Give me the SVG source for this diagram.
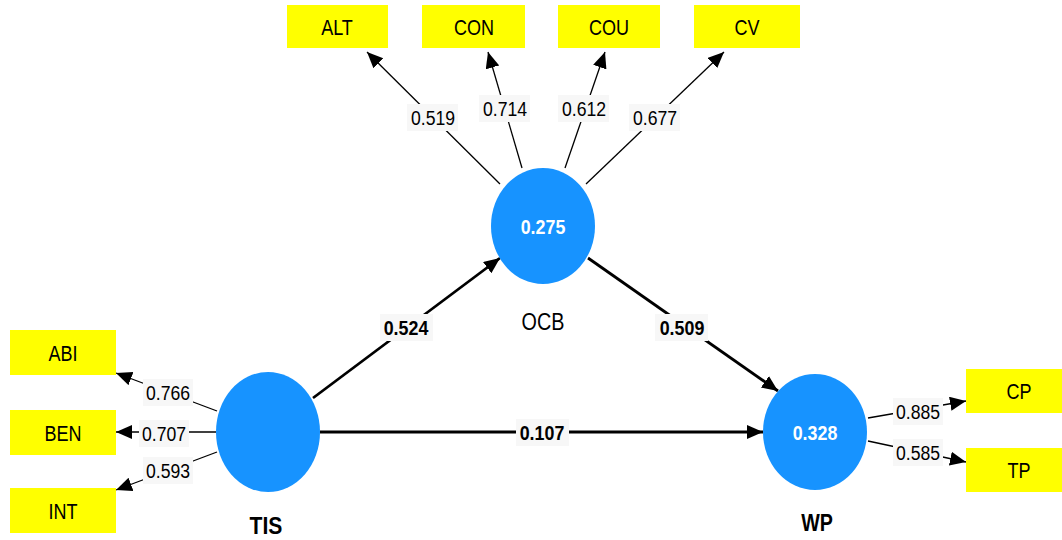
<svg xmlns="http://www.w3.org/2000/svg" width="1062" height="540" viewBox="0 0 1062 540">
<style>
text{font-family:"Liberation Sans",Arial,sans-serif;text-anchor:middle;dominant-baseline:central}
.box{fill:#ffff00}
.bt{font-size:22px;fill:#000}
.lv{fill:#1793ff}
.lt{font-size:24px;font-weight:bold;fill:#000}
.ln{font-size:23px;fill:#000}
.r2{font-size:21px;font-weight:bold;fill:#fff}
.thin{stroke:#000;stroke-width:1.3;fill:none;marker-end:url(#ah)}
.thick{stroke:#000;stroke-width:2.8;fill:none;marker-end:url(#ah)}
.lb{fill:#f7f7f7}
.ld{font-size:21px;fill:#000}
.pd{font-size:21px;font-weight:bold;fill:#000}
</style>
<defs>
<marker id="ah" markerUnits="userSpaceOnUse" markerWidth="18" markerHeight="16" refX="16" refY="7" orient="auto">
<path d="M0,0 L16,7 L0,14 Z" fill="#000"/>
</marker>
</defs>
<rect width="1062" height="540" fill="#fff"/>
<g id="connectors">
<line class="thin" x1="500" y1="184" x2="367" y2="52"/>
<line class="thin" x1="522" y1="168" x2="488" y2="52"/>
<line class="thin" x1="565" y1="168" x2="605" y2="52"/>
<line class="thin" x1="586" y1="184" x2="724" y2="52"/>
<line class="thick" x1="313" y1="398" x2="500" y2="258"/>
<line class="thick" x1="588" y1="258" x2="778" y2="391"/>
<line class="thick" x1="320" y1="432" x2="763" y2="432"/>
<line class="thin" x1="217" y1="411" x2="116" y2="373"/>
<line class="thin" x1="216" y1="432" x2="116" y2="432"/>
<line class="thin" x1="217" y1="452" x2="116" y2="490"/>
<line class="thin" x1="868" y1="418" x2="966" y2="401"/>
<line class="thin" x1="868" y1="441" x2="966" y2="462"/>
<rect class="lb" x="407" y="104" width="51" height="27"/><text class="ld" transform="translate(433 117) scale(0.84 1)">0.519</text>
<rect class="lb" x="479" y="95" width="51" height="27"/><text class="ld" transform="translate(505 108) scale(0.84 1)">0.714</text>
<rect class="lb" x="558" y="95" width="51" height="27"/><text class="ld" transform="translate(584 108) scale(0.84 1)">0.612</text>
<rect class="lb" x="629" y="104" width="51" height="27"/><text class="ld" transform="translate(655 117) scale(0.84 1)">0.677</text>
<rect class="lb" x="380" y="314" width="53" height="27"/><text class="pd" transform="translate(406 327) scale(0.85 1)">0.524</text>
<rect class="lb" x="655" y="314" width="53" height="27"/><text class="pd" transform="translate(682 327) scale(0.85 1)">0.509</text>
<rect class="lb" x="516" y="419" width="53" height="27"/><text class="pd" transform="translate(542 432) scale(0.85 1)">0.107</text>
<rect class="lb" x="143" y="379" width="50" height="27"/><text class="ld" transform="translate(168 392) scale(0.84 1)">0.766</text>
<rect class="lb" x="139" y="420" width="50" height="27"/><text class="ld" transform="translate(164 433) scale(0.84 1)">0.707</text>
<rect class="lb" x="143" y="457" width="50" height="27"/><text class="ld" transform="translate(168 470) scale(0.84 1)">0.593</text>
<rect class="lb" x="893" y="398" width="50" height="27"/><text class="ld" transform="translate(918 411) scale(0.84 1)">0.885</text>
<rect class="lb" x="893" y="439" width="50" height="27"/><text class="ld" transform="translate(918 452) scale(0.84 1)">0.585</text>
</g>
<g id="ALT"><rect class="box" x="287" y="5" width="101" height="43"/><text class="bt" transform="translate(337 27) scale(0.82 1)">ALT</text></g>
<g id="CON"><rect class="box" x="422" y="5" width="103" height="43"/><text class="bt" transform="translate(474 27) scale(0.82 1)">CON</text></g>
<g id="COU"><rect class="box" x="558" y="5" width="102" height="43"/><text class="bt" transform="translate(609 27) scale(0.82 1)">COU</text></g>
<g id="CV"><rect class="box" x="694" y="5" width="106" height="43"/><text class="bt" transform="translate(747 27) scale(0.82 1)">CV</text></g>
<g id="ABI"><rect class="box" x="10" y="330" width="106" height="45"/><text class="bt" transform="translate(63 353) scale(0.82 1)">ABI</text></g>
<g id="BEN"><rect class="box" x="10" y="410" width="106" height="45"/><text class="bt" transform="translate(63 433) scale(0.82 1)">BEN</text></g>
<g id="INT"><rect class="box" x="10" y="488" width="106" height="45"/><text class="bt" transform="translate(63 511) scale(0.82 1)">INT</text></g>
<g id="CP"><rect class="box" x="966" y="369" width="96" height="44"/><text class="bt" transform="translate(1019 391) scale(0.82 1)">CP</text></g>
<g id="TP"><rect class="box" x="966" y="448" width="96" height="44"/><text class="bt" transform="translate(1019 470) scale(0.82 1)">TP</text></g>
<g id="OCB"><ellipse class="lv" cx="543" cy="226" rx="52" ry="58"/><text class="r2" transform="translate(543 226) scale(0.85 1)">0.275</text><text class="ln" transform="translate(543 322) scale(0.86 1)">OCB</text></g>
<g id="TIS"><ellipse class="lv" cx="268" cy="432" rx="52" ry="60"/><text class="lt" transform="translate(266 526) scale(0.88 1)">TIS</text></g>
<g id="WP"><ellipse class="lv" cx="815" cy="432" rx="52" ry="58"/><text class="r2" transform="translate(815 432) scale(0.85 1)">0.328</text><text class="lt" transform="translate(817 523) scale(0.82 1)">WP</text></g>
</svg>
